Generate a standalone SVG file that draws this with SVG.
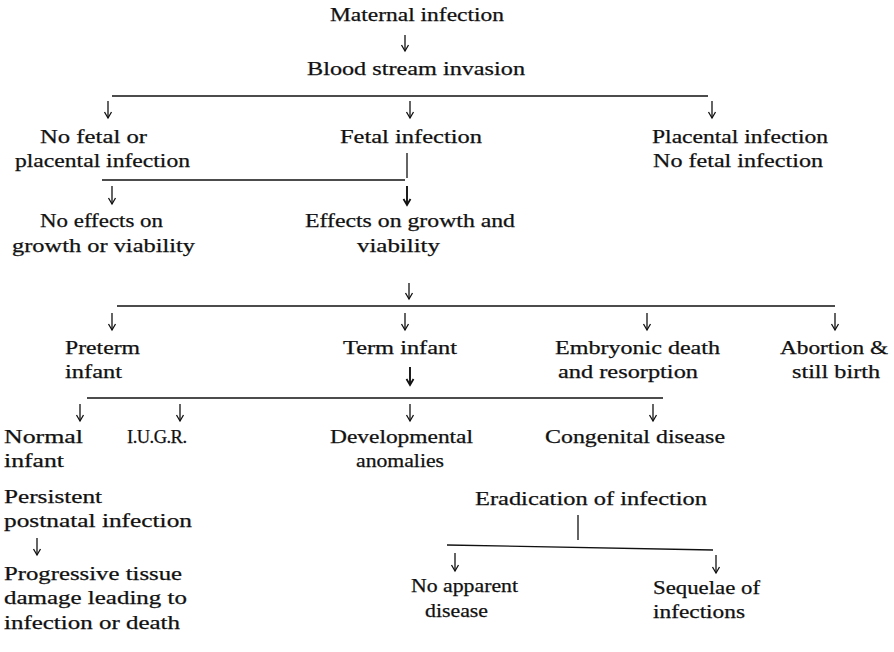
<svg xmlns="http://www.w3.org/2000/svg" width="894" height="652" viewBox="0 0 894 652">
<style>
  text { font-family: "Liberation Serif", "Times New Roman", serif; font-size: 18.5px; fill: #111; stroke: #111; stroke-width: 0.25; }
  .ln { stroke: #111; stroke-width: 1.3; fill: none; }
  .ar { stroke: #111; stroke-width: 1.3; fill: none; marker-end: url(#ah); }
  .arb { stroke: #111; stroke-width: 1.9; fill: none; marker-end: url(#ahb); }
</style>
<defs>
  <marker id="ah" markerUnits="userSpaceOnUse" markerWidth="10" markerHeight="10" refX="7" refY="4.5" orient="auto">
    <path d="M1,1 L7,4.5 L1,8" fill="none" stroke="#111" stroke-width="1.3"/>
  </marker>
  <marker id="ahb" markerUnits="userSpaceOnUse" markerWidth="10" markerHeight="10" refX="7" refY="4.5" orient="auto">
    <path d="M1,1 L7,4.5 L1,8" fill="none" stroke="#111" stroke-width="1.8"/>
  </marker>
</defs>
<rect width="894" height="652" fill="#fff"/>

<g id="connectors">
  <line class="ar" x1="405" y1="35" x2="405" y2="51"/>
  <line class="ln" x1="112" y1="96" x2="708" y2="96"/>
  <line class="ar" x1="108" y1="101" x2="108" y2="118"/>
  <line class="ar" x1="410" y1="101" x2="410" y2="118"/>
  <line class="ar" x1="712" y1="101" x2="712" y2="118"/>
  <line class="ln" x1="407" y1="153" x2="407" y2="178"/>
  <line class="ln" x1="102" y1="180" x2="405" y2="180"/>
  <line class="ar" x1="112" y1="186" x2="112" y2="204"/>
  <line class="arb" x1="407" y1="186" x2="407" y2="205"/>
  <line class="ar" x1="409" y1="283" x2="409" y2="299"/>
  <line class="ln" x1="117" y1="306" x2="835" y2="306"/>
  <line class="ar" x1="112" y1="313" x2="112" y2="330"/>
  <line class="ar" x1="405" y1="313" x2="405" y2="330"/>
  <line class="ar" x1="647" y1="313" x2="647" y2="330"/>
  <line class="ar" x1="835" y1="313" x2="835" y2="330"/>
  <line class="arb" x1="410" y1="367" x2="410" y2="385"/>
  <line class="ln" x1="87" y1="398" x2="663" y2="398"/>
  <line class="ar" x1="80" y1="404" x2="80" y2="421"/>
  <line class="ar" x1="180" y1="404" x2="180" y2="421"/>
  <line class="ar" x1="410" y1="404" x2="410" y2="421"/>
  <line class="ar" x1="653" y1="404" x2="653" y2="421"/>
  <line class="ar" x1="37" y1="538" x2="37" y2="555"/>
  <line class="ln" x1="578" y1="515" x2="578" y2="540"/>
  <line class="ln" x1="447" y1="545" x2="713" y2="550"/>
  <line class="ar" x1="455" y1="553" x2="455" y2="571"/>
  <line class="ar" x1="716" y1="555" x2="716" y2="573"/>
</g>

<g id="maternal-infection"><text x="330" y="21" textLength="174" lengthAdjust="spacingAndGlyphs">Maternal infection</text></g>
<g id="blood-stream-invasion"><text x="307" y="75" textLength="218" lengthAdjust="spacingAndGlyphs">Blood stream invasion</text></g>
<g id="no-fetal-placental">
  <text x="40" y="143" textLength="107" lengthAdjust="spacingAndGlyphs">No fetal or</text>
  <text x="15" y="167" textLength="175" lengthAdjust="spacingAndGlyphs">placental infection</text>
</g>
<g id="fetal-infection"><text x="340" y="143" textLength="142" lengthAdjust="spacingAndGlyphs">Fetal infection</text></g>
<g id="placental-infection">
  <text x="652" y="143" textLength="176" lengthAdjust="spacingAndGlyphs">Placental infection</text>
  <text x="653" y="167" textLength="170" lengthAdjust="spacingAndGlyphs">No fetal infection</text>
</g>
<g id="no-effects">
  <text x="40" y="227" textLength="123" lengthAdjust="spacingAndGlyphs">No effects on</text>
  <text x="12" y="252" textLength="183" lengthAdjust="spacingAndGlyphs">growth or viability</text>
</g>
<g id="effects">
  <text x="305" y="227" textLength="210" lengthAdjust="spacingAndGlyphs">Effects on growth and</text>
  <text x="357" y="252" textLength="83" lengthAdjust="spacingAndGlyphs">viability</text>
</g>
<g id="preterm-infant">
  <text x="65" y="354" textLength="75" lengthAdjust="spacingAndGlyphs">Preterm</text>
  <text x="65" y="378" textLength="57" lengthAdjust="spacingAndGlyphs">infant</text>
</g>
<g id="term-infant"><text x="343" y="354" textLength="114" lengthAdjust="spacingAndGlyphs">Term infant</text></g>
<g id="embryonic-death">
  <text x="555" y="354" textLength="165" lengthAdjust="spacingAndGlyphs">Embryonic death</text>
  <text x="558" y="378" textLength="140" lengthAdjust="spacingAndGlyphs">and resorption</text>
</g>
<g id="abortion">
  <text x="780" y="354" textLength="108" lengthAdjust="spacingAndGlyphs">Abortion &amp;</text>
  <text x="792" y="378" textLength="88" lengthAdjust="spacingAndGlyphs">still birth</text>
</g>
<g id="normal-infant">
  <text x="4" y="443" textLength="79" lengthAdjust="spacingAndGlyphs">Normal</text>
  <text x="4" y="467" textLength="60" lengthAdjust="spacingAndGlyphs">infant</text>
</g>
<g id="iugr"><text x="127" y="443" textLength="60" lengthAdjust="spacing">I.U.G.R.</text></g>
<g id="developmental-anomalies">
  <text x="330" y="443" textLength="143" lengthAdjust="spacingAndGlyphs">Developmental</text>
  <text x="356" y="467" textLength="88" lengthAdjust="spacingAndGlyphs">anomalies</text>
</g>
<g id="congenital-disease"><text x="545" y="443" textLength="180" lengthAdjust="spacingAndGlyphs">Congenital disease</text></g>
<g id="persistent-infection">
  <text x="4" y="503" textLength="98" lengthAdjust="spacingAndGlyphs">Persistent</text>
  <text x="4" y="527" textLength="188" lengthAdjust="spacingAndGlyphs">postnatal infection</text>
</g>
<g id="progressive-damage">
  <text x="4" y="580" textLength="178" lengthAdjust="spacingAndGlyphs">Progressive tissue</text>
  <text x="4" y="604" textLength="183" lengthAdjust="spacingAndGlyphs">damage leading to</text>
  <text x="4" y="629" textLength="176" lengthAdjust="spacingAndGlyphs">infection or death</text>
</g>
<g id="eradication"><text x="475" y="505" textLength="232" lengthAdjust="spacingAndGlyphs">Eradication of infection</text></g>
<g id="no-apparent-disease">
  <text x="411" y="592" textLength="107" lengthAdjust="spacingAndGlyphs">No apparent</text>
  <text x="425" y="617" textLength="63" lengthAdjust="spacingAndGlyphs">disease</text>
</g>
<g id="sequelae">
  <text x="653" y="594" textLength="107" lengthAdjust="spacingAndGlyphs">Sequelae of</text>
  <text x="653" y="618" textLength="92" lengthAdjust="spacingAndGlyphs">infections</text>
</g>
</svg>
